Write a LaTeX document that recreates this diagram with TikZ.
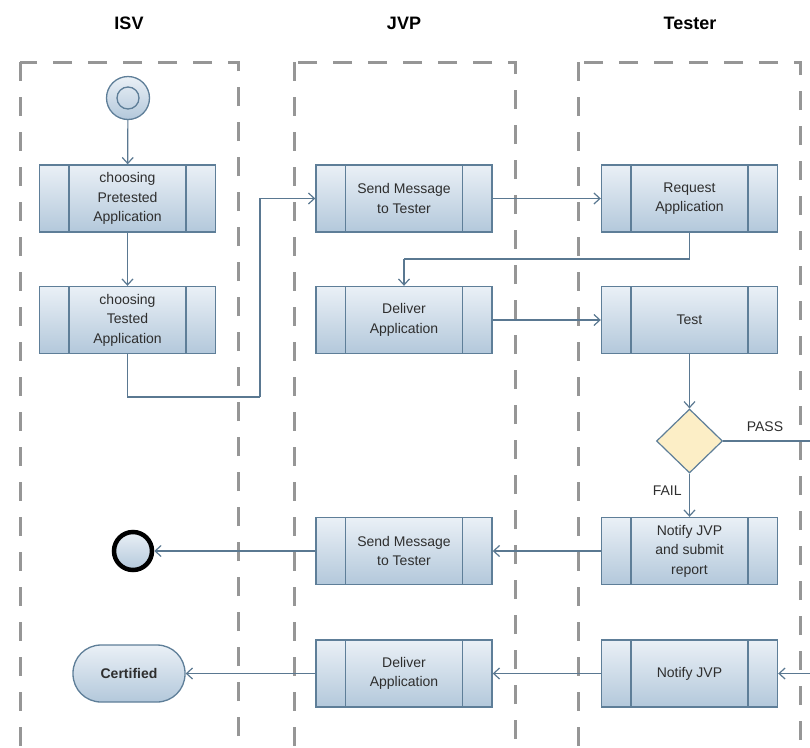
\documentclass[tikz,border=0pt]{standalone}
\usepackage{fontspec}
\setmainfont{Liberation Sans}
\usetikzlibrary{arrows.meta,shapes.geometric}
\definecolor{edgeblue}{HTML}{5E7E98}
\definecolor{flowblue}{HTML}{5A7891}
\definecolor{boxtop}{HTML}{EAF0F6}
\definecolor{boxbot}{HTML}{B3C8DB}
\definecolor{lanegray}{HTML}{969696}
\definecolor{decfill}{HTML}{FCEEC6}
\definecolor{txt}{HTML}{2E2E2E}
\tikzset{
  lane/.style={draw=lanegray, line width=3pt, dash pattern=on 19pt off 16pt},
  lanehead/.style={font=\fontsize{18}{20}\selectfont\bfseries, text=black},
  actbox/.style={draw=edgeblue, line width=1.4pt, top color=boxtop, bottom color=boxbot,
    minimum width=176pt, minimum height=67pt, inner sep=0pt, align=center,
    font=\fontsize{14}{19.5}\selectfont, text=txt,
    path picture={
      \draw[edgeblue, line width=1.8pt]
        ([xshift=29.5pt]path picture bounding box.south west) -- ([xshift=29.5pt]path picture bounding box.north west)
        ([xshift=-29.5pt]path picture bounding box.south east) -- ([xshift=-29.5pt]path picture bounding box.north east);
    }},
  flow/.style={draw=flowblue, line width=1.2pt, -{Straight Barb[length=6pt,width=11pt,line width=1.2pt]}},
  link/.style={draw=flowblue, line width=1.2pt},
  lbl/.style={font=\fontsize{14}{16}\selectfont, text=txt},
}
\begin{document}
\begin{tikzpicture}[x=1pt,y=-1pt]
\useasboundingbox (0,0) rectangle (810,747);
\clip (0,0) rectangle (810,747);

% swimlanes
\draw[lane] (20,62) rectangle (238,780);
\draw[lane] (294,62) rectangle (515,780);
\draw[lane] (578,62) rectangle (800,780);
\node[lanehead] (hisv) at (129,23) {ISV};
\node[lanehead] (hjvp) at (404,23) {JVP};
\node[lanehead] (htester) at (690,23) {Tester};

% start node
\node[circle, draw=edgeblue, line width=1.3pt, top color=boxtop, bottom color=boxbot,
      minimum size=43pt, inner sep=0pt] (start) at (128,98) {};
\draw[edgeblue, line width=1.3pt] (start.center) circle (11);

% activities
\node[actbox] (pre)   at (127.5,198.5) {choosing\\Pretested\\Application};
\node[actbox] (tested) at (127.5,320) {choosing\\Tested\\Application};
\node[actbox] (jsend)  at (404,198.5) {Send Message\\to Tester};
\node[actbox] (jdel)   at (404,320) {Deliver\\Application};
\node[actbox] (treq)   at (689.5,198.5) {Request\\Application};
\node[actbox] (ttest)  at (689.5,320) {Test};
\node[diamond, draw=edgeblue, line width=1.2pt, fill=decfill, minimum width=66pt,
      minimum height=64pt, inner sep=0pt] (dec) at (689.5,441) {};
\node[actbox] (tnote)  at (689.5,551) {Notify JVP\\and submit\\report};
\node[actbox] (jsend2) at (404,551) {Send Message\\to Tester};
\node[actbox] (jdel2)  at (404,673.5) {Deliver\\Application};
\node[actbox] (tnjvp)  at (689.5,673.5) {Notify JVP};

% end nodes
\node[circle, draw=black, line width=4.5pt, top color=boxtop, bottom color=boxbot,
      minimum size=38pt, inner sep=0pt] (stop) at (133,551) {};
\node[draw=edgeblue, line width=1.3pt, top color=boxtop, bottom color=boxbot,
      rounded corners=28pt, minimum width=112pt, minimum height=57pt, inner sep=0pt,
      font=\fontsize{14}{16}\selectfont\bfseries, text=txt] (cert) at (129,673.5) {Certified};

% bend points
\coordinate (k1) at (260,397);
\coordinate (k2) at (404,259);
\coordinate (k3) at (840,441);

% flows
\draw[flow] (start) -- (pre);
\draw[flow] (pre) -- (tested);
\draw[link] (tested.south) |- (k1);
\draw[flow] (k1) |- (jsend.west);
\draw[flow] (jsend) -- (treq);
\draw[link] (treq.south) |- (k2);
\draw[flow] (k2) -- (jdel.north);
\draw[flow] (jdel) -- (ttest);
\draw[flow] (ttest) -- (dec);
\draw[link] (dec.east) -- (k3);
\draw[flow] (k3) |- (tnjvp.east);
\draw[flow] (dec) -- node[lbl, pos=0.4, left=4pt] (fail) {FAIL} (tnote);
\node[lbl] (pass) at (765,427) {PASS};
\draw[flow] (tnote) -- (jsend2);
\draw[flow] (jsend2) -- (stop);
\draw[flow] (tnjvp) -- (jdel2);
\draw[flow] (jdel2) -- (cert);
\end{tikzpicture}
\end{document}
